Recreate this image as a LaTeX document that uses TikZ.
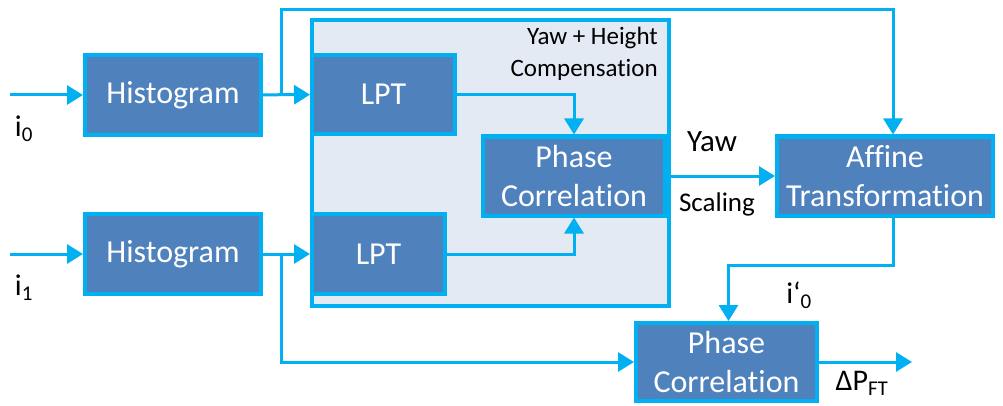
\documentclass[tikz,border=0pt]{standalone}
\usepackage{fontspec}
\setmainfont[Ligatures=NoCommon]{Carlito}
\usetikzlibrary{arrows.meta}

\definecolor{boxblue}{HTML}{4F81BD}
\definecolor{linecyan}{HTML}{00B0F0}
\definecolor{groupbg}{HTML}{E3EAF4}

\begin{document}
\begin{tikzpicture}[x=1pt,y=1pt,
  block/.style={draw=linecyan, line width=4pt, fill=boxblue, text=white,
    align=center, inner sep=0pt, font=\fontsize{32}{39}\selectfont},
  flow/.style={draw=linecyan, line width=3pt,
    -{Triangle[length=16pt,width=19pt]}},
  lbl/.style={font=\fontsize{30}{36}\selectfont}]
\useasboundingbox (0,0) rectangle (1003,405);

% compensation group
\node[draw=linecyan, line width=4pt, fill=groupbg, inner sep=0pt,
  minimum width=357pt, minimum height=286pt] (comp) at (490.5,242) {};
\node[anchor=north east, align=right, inner sep=0pt,
  font=\fontsize{25}{32}\selectfont] (comptxt) at (658,378)
{Yaw + Height\\Compensation};

% blocks
\node[block, minimum width=176pt, minimum height=80pt] (hist0) at (173,310) {Histogram};
\node[block, minimum width=176pt, minimum height=80pt] (hist1) at (173,151) {Histogram};
\node[block, minimum width=143pt, minimum height=79pt] (lpt0) at (383.5,310.5) {LPT};
\node[block, minimum width=133pt, minimum height=80pt] (lpt1) at (378.5,151) {LPT};
\node[block, minimum width=182pt, minimum height=79pt] (pc0) at (574,229) {Phase\\Correlation};
\node[block, minimum width=216pt, minimum height=79pt] (aff) at (885,229) {Affine\\Transformation};
\node[block, minimum width=181pt, minimum height=78pt] (pc1) at (726.5,43) {Phase\\Correlation};

% free ends
\coordinate (in0) at (10,310);
\coordinate (in1) at (10,151);
\coordinate (br0) at (281,310);
\coordinate (br1) at (281,151);
\coordinate (out) at (912,43);

\draw[flow] (in0) -- (hist0);
\draw[flow] (in1) -- (hist1);
\draw[flow] (hist0) -- (lpt0);
\draw[flow] (hist1) -- (lpt1);
\draw[flow] (br0) -- (281,395) -| ([xshift=8pt]aff.north);
\draw[flow] (br1) |- (pc1);
\draw[flow] (lpt0) -| (pc0);
\draw[flow] (lpt1) -| (pc0);
\draw[flow] (pc0) -- (aff);
\draw[flow] ([xshift=8pt]aff.south) -- ++(0,-48) -| ([xshift=2pt]pc1.north);
\draw[flow] (pc1) -- (out);

% labels
\node[lbl] (i0) at (24,276) {i\textsubscript{0}};
\node[lbl] (i1) at (24,117) {i\textsubscript{1}};
\node[lbl, font=\fontsize{31}{36}\selectfont] (yaw) at (712,263) {Yaw};
\node[lbl, font=\fontsize{27}{32}\selectfont] (scal) at (717,201) {Scaling};
\node[lbl] (iprime) at (799,110) {i‘\textsubscript{0}};
\node[lbl] (dpft) at (862,22) {ΔP\textsubscript{FT}};
\end{tikzpicture}
\end{document}
